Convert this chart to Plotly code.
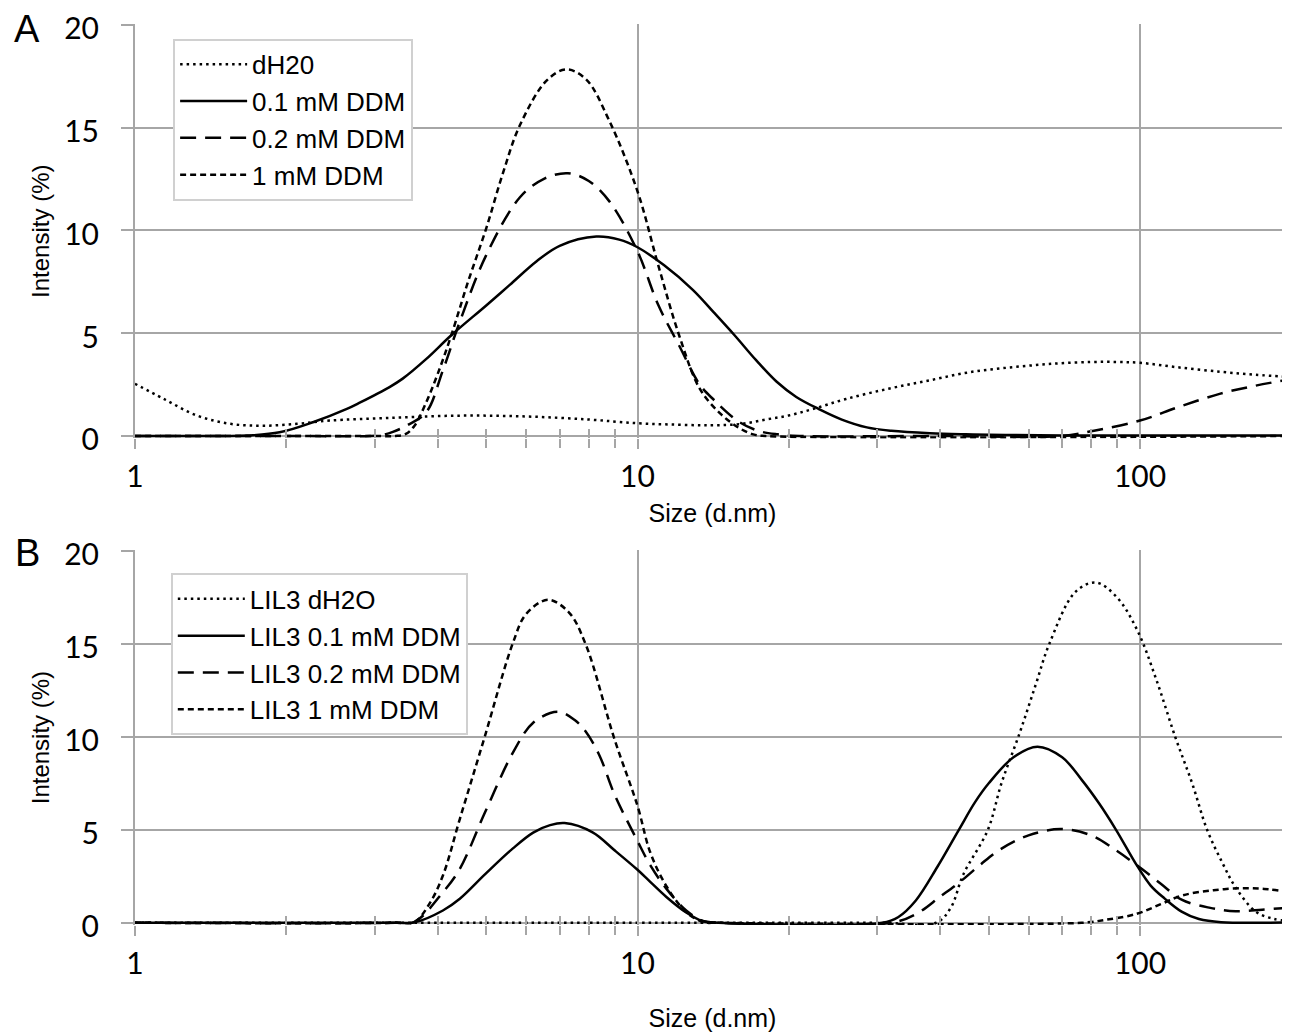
import plotly.graph_objects as go

# ---------------- Panel A data (size in d.nm, intensity in %) ----------------
a_h2o_x = [1, 1.14, 1.33, 1.55, 1.8, 2.1, 2.44, 3.2, 4.4, 6, 8, 10, 12, 14, 16, 18, 20,
           22.4, 26, 31.6, 38, 46, 56, 67.6, 80, 90, 100, 119, 145, 170, 198]
a_h2o_y = [2.54, 1.81, 0.99, 0.59, 0.50, 0.59, 0.75, 0.88, 0.99, 0.95, 0.80, 0.62, 0.55, 0.52,
           0.58, 0.80, 1.0, 1.32, 1.8, 2.3, 2.7, 3.11, 3.35, 3.52, 3.6, 3.6, 3.56, 3.34, 3.12, 2.98, 2.87]

a_01_x = [1, 1.5, 1.67, 1.94, 2.26, 2.64, 2.8, 3.21, 3.41, 3.8, 4.26, 5.0, 5.57, 6.3, 7.0, 8.28, 9.2,
          10, 11.3, 12.9, 14.2, 15.6, 17.2, 18.9, 20.7, 23, 25.5, 28.6, 32, 38.2, 45, 54, 70, 100, 198]
a_01_y = [0, 0, 0.02, 0.18, 0.67, 1.32, 1.62, 2.38, 2.79, 3.75, 4.9, 6.35, 7.35, 8.5, 9.25, 9.70, 9.55,
          9.18, 8.3, 7.1, 6.0, 4.9, 3.7, 2.65, 1.9, 1.3, 0.8, 0.42, 0.25, 0.13, 0.08, 0.05, 0.02, 0.02, 0.02]

a_02_x = [1, 2.0, 2.93, 3.1, 3.26, 3.5, 3.8, 4.1, 4.43, 5.0, 5.83, 6.5, 7.27, 8.0, 8.8, 10, 11,
          12.1, 13.3, 14.2, 15.9, 17.4, 19, 21, 40, 70, 81, 100, 119, 144, 170, 198]
a_02_y = [0, 0, 0, 0.05, 0.2, 0.55, 1.16, 3.2, 5.56, 8.8, 11.6, 12.5, 12.78, 12.4, 11.4, 8.98,
          6.37, 4.4, 2.5, 1.75, 0.7, 0.25, 0.08, 0, 0, 0, 0.26, 0.75, 1.4, 2.05, 2.45, 2.75]

a_1_x = [1, 3.0, 3.3, 3.46, 3.6, 3.8, 4.0, 4.26, 4.6, 5.0, 5.4, 5.83, 6.6, 7.22, 7.9, 8.8, 10,
         11, 12.1, 13.3, 14.6, 15.9, 17, 18, 198]
a_1_y = [0, 0, 0, 0.1, 0.5, 1.65, 3.0, 4.9, 7.5, 10.1, 12.8, 15.1, 17.3, 17.83, 17.35, 15.3, 11.9,
         8.3, 4.9, 2.3, 1.1, 0.4, 0.08, 0, 0]

# ---------------- Panel B data ----------------
b_h2o_x = [1, 30, 39.3, 42, 44.5, 49.8, 53, 57.6, 62, 66, 74.4, 81.7, 90, 98.9, 108, 117.5,
           127, 136, 146, 155, 170, 185, 198]
b_h2o_y = [0, 0, 0, 0.8, 2.6, 5.0, 7.5, 10.2, 12.8, 15.0, 17.8, 18.3, 17.5, 15.7, 13.0, 10,
           7.5, 5.0, 3.2, 1.9, 0.6, 0.2, 0.1]

b_01_x = [1, 3.3, 3.6, 4.1, 4.43, 4.97, 5.65, 6.2, 6.7, 7.16, 8.14, 9.0, 10, 10.6, 11.4, 12.5,
          13.5, 14.5, 30.7, 33, 35.8, 39.5, 43.6, 47, 50, 56, 62.5, 70, 76.5, 83, 89.6, 98.5,
          105, 112, 121, 131, 145, 198]
b_01_y = [0, 0, 0.02, 0.66, 1.29, 2.6, 4.0, 4.85, 5.25, 5.36, 4.86, 3.9, 2.85, 2.2, 1.4, 0.55,
          0.08, 0, 0, 0.3, 1.2, 3.0, 5.0, 6.5, 7.5, 8.9, 9.47, 8.9, 7.7, 6.4, 5.0, 3.1,
          2.0, 1.3, 0.6, 0.2, 0.03, 0.02]

b_02_x = [1, 3.3, 3.6, 4.1, 4.43, 4.97, 5.65, 6.2, 6.94, 7.5, 7.88, 8.4, 9.0, 10, 10.6, 11.4,
          12.5, 13.5, 14.5, 32, 36, 40, 43.6, 48, 52.4, 60, 69.6, 80, 89.6, 98.5, 110, 121, 138,
          155, 175, 198]
b_02_y = [0, 0, 0.05, 1.64, 2.9, 5.93, 9.15, 10.76, 11.35, 10.9, 10.3, 9.0, 6.9, 4.4, 3.1, 1.85,
          0.66, 0.1, 0, 0, 0.5, 1.4, 2.15, 3.1, 3.9, 4.7, 5.04, 4.7, 3.9, 3.1, 2.1, 1.24, 0.8,
          0.62, 0.7, 0.82]

b_1_x = [1, 3.3, 3.6, 3.85, 4.1, 4.43, 4.97, 5.65, 6.0, 6.63, 7.3, 7.88, 9.0, 10, 10.6, 11.4,
         12.5, 13.5, 14.5, 76.5, 85, 98.5, 110, 121, 140, 162, 180, 198]
b_1_y = [0, 0, 0.05, 1.0, 2.54, 5.58, 10.04, 15.05, 16.6, 17.37, 16.7, 15.0, 9.87, 6.29, 3.79, 2.0,
         0.57, 0.04, 0, 0, 0.15, 0.48, 1.0, 1.46, 1.75, 1.86, 1.8, 1.65]

names_a = ["dH20", "0.1 mM DDM", "0.2 mM DDM", "1 mM DDM"]
names_b = ["LIL3 dH2O", "LIL3 0.1 mM DDM", "LIL3 0.2 mM DDM", "LIL3 1 mM DDM"]

x_ticks = [1, 10, 100]
x_minor = [2, 3, 4, 5, 6, 7, 8, 9, 20, 30, 40, 50, 60, 70, 80, 90, 200]
y_ticks = [0, 5, 10, 15, 20]

DASHES = ["2.5px,4px", "solid", "16px,9px", "6px,4px"]
GRID = "#a6a6a6"
SANS = "Liberation Sans, Arial, sans-serif"
TICKF = "Lato, sans-serif"

fig = go.Figure()

series_a = [(a_h2o_x, a_h2o_y), (a_01_x, a_01_y), (a_02_x, a_02_y), (a_1_x, a_1_y)]
series_b = [(b_h2o_x, b_h2o_y), (b_01_x, b_01_y), (b_02_x, b_02_y), (b_1_x, b_1_y)]

for (xs, ys), nm, dash in zip(series_a, names_a, DASHES):
    fig.add_trace(go.Scatter(x=xs, y=ys, name=nm, mode="lines",
                             line=dict(color="black", width=2.5, dash=dash, shape="spline", smoothing=1.0),
                             xaxis="x", yaxis="y", legend="legend"))
for (xs, ys), nm, dash in zip(series_b, names_b, DASHES):
    fig.add_trace(go.Scatter(x=xs, y=ys, name=nm, mode="lines",
                             line=dict(color="black", width=2.5, dash=dash, shape="spline", smoothing=1.0),
                             xaxis="x2", yaxis="y2", legend="legend2"))

# empty helper traces so the overlaying tick-only axes (inner tick halves) are drawn
fig.add_trace(go.Scatter(x=[], y=[], xaxis="x3", yaxis="y", showlegend=False, hoverinfo="skip"))
fig.add_trace(go.Scatter(x=[], y=[], xaxis="x4", yaxis="y2", showlegend=False, hoverinfo="skip"))

XRANGE = [0, 2.2985]
YRANGE = [-0.12, 20.04]


def xaxis_main(anchor, title_standoff):
    return dict(type="log", range=XRANGE, anchor=anchor, domain=[0, 1], automargin=False,
                tickvals=x_ticks, ticktext=[str(v) for v in x_ticks],
                ticks="outside", ticklen=10, tickwidth=2, tickcolor=GRID,
                showgrid=True, gridcolor=GRID, gridwidth=2, showline=False, zeroline=False,
                minor=dict(tickvals=x_minor, ticks="outside", ticklen=9, tickwidth=2,
                           tickcolor=GRID, showgrid=False),
                tickfont=dict(family=TICKF, size=30, color="black"),
                ticklabelstandoff=2, ticklabeloverflow="allow",
                title=dict(text="Size (d.nm)", font=dict(family=SANS, size=25, color="black"),
                           standoff=title_standoff))


def xaxis_inner(overlay, anchor):
    return dict(type="log", range=XRANGE, anchor=anchor, overlaying=overlay, automargin=False,
                tickvals=x_ticks, ticks="inside", ticklen=10, tickwidth=2, tickcolor=GRID,
                showticklabels=False, showgrid=False, showline=False, zeroline=False,
                minor=dict(tickvals=x_minor, ticks="inside", ticklen=9, tickwidth=2,
                           tickcolor=GRID, showgrid=False))


def yaxis_main(anchor, domain):
    return dict(range=YRANGE, anchor=anchor, domain=domain, tickvals=y_ticks, automargin=False,
                ticks="outside", ticklen=12, tickwidth=2, tickcolor=GRID,
                showgrid=True, gridcolor=GRID, gridwidth=2,
                zeroline=True, zerolinecolor=GRID, zerolinewidth=2,
                showline=True, linecolor=GRID, linewidth=2,
                tickfont=dict(family=TICKF, size=30, color="black"),
                ticklabelstandoff=16, ticklabelshift=4, ticklabeloverflow="allow",
                title=dict(text="Intensity (%)", font=dict(family=SANS, size=24, color="black"),
                           standoff=8))


legend_common = dict(xanchor="left", yanchor="top", bgcolor="white", bordercolor="#d0d0d0",
                     borderwidth=2, itemwidth=67,
                     font=dict(family=SANS, size=26, color="black"))

# the page body has an 8px margin, so the figure is 8px smaller than the window
fig.update_layout(
    width=1282, height=1025,
    margin=dict(l=127, r=0, t=16, b=108, autoexpand=False),
    paper_bgcolor="white", plot_bgcolor="white",
    xaxis=xaxis_main("y", 12),
    yaxis=yaxis_main("x", [0.54, 1.0]),
    xaxis2=xaxis_main("y2", 30),
    yaxis2=yaxis_main("x2", [0.0, 0.416]),
    xaxis3=xaxis_inner("x", "y"),
    xaxis4=xaxis_inner("x2", "y2"),
    legend=dict(x=0.033, y=0.9835, **legend_common),
    legend2=dict(x=0.031, y=0.3902, **legend_common),
    annotations=[
        dict(text="A", x=-0.0935, y=0.9944, xref="paper", yref="paper", showarrow=False,
             xanchor="center", yanchor="middle", font=dict(family=SANS, size=38, color="black")),
        dict(text="B", x=-0.0935, y=0.4133, xref="paper", yref="paper", showarrow=False,
             xanchor="center", yanchor="middle", font=dict(family=SANS, size=38, color="black")),
    ],
)

fig.write_html("out.html")
